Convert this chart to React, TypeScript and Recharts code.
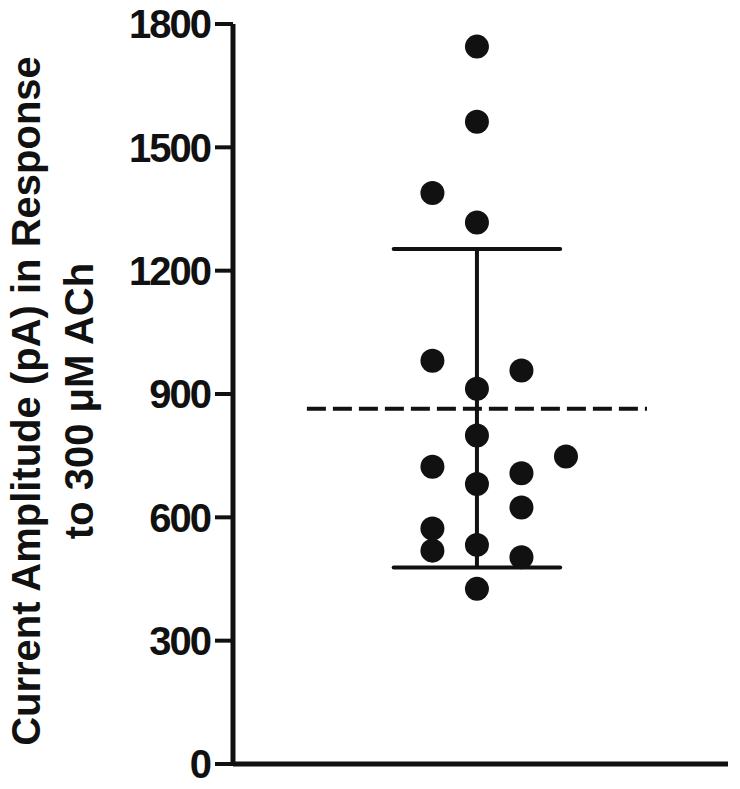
import React from "react";
import { ScatterChart, Scatter, XAxis, YAxis, ReferenceLine } from "recharts";

// Jitter column (offset units) and amplitude (pA) for each cell
const pointColumn = [0, 0, -1, 0, -1, 1, 0, 0, 2, -1, 1, 0, 1, -1, 0, -1, 1, 0];
const pointAmplitude = [1745, 1562, 1389, 1317, 981, 957, 913, 799, 748, 723, 707, 681, 624, 573, 533, 519, 503, 426];

const meanValue = 864;
const sdUpper = 1253;
const sdLower = 478;

const yTicks = [0, 300, 600, 900, 1200, 1500, 1800];
const labelLine1 = "Current Amplitude  (pA) in Response";
const labelLine2 = "to 300 \u03BCM ACh";

const data = pointColumn.map((c, i) => ({ x: c, y: pointAmplitude[i] }));

const INK = "#111";
const FONT = "'Liberation Sans', Arial, Helvetica, sans-serif";

const Dot = (props: any) => <circle cx={props.cx} cy={props.cy} r={12} fill={INK} />;

const YLabel = () => (
  <g>
    <text
      x={40}
      y={401}
      transform="rotate(-90, 40, 401)"
      textAnchor="middle"
      fontFamily={FONT}
      fontWeight="bold"
      fontSize={40}
      fill={INK}
    >
      {labelLine1}
    </text>
    <text
      x={93}
      y={401}
      transform="rotate(-90, 93, 401)"
      textAnchor="middle"
      fontFamily={FONT}
      fontWeight="bold"
      fontSize={40}
      fill={INK}
    >
      {labelLine2}
    </text>
  </g>
);

export default function App() {
  return (
    <div style={{ position: "absolute", left: 0, top: 0, background: "#fff" }}>
      <ScatterChart width={740} height={789} margin={{ top: 24, right: 12, bottom: 20, left: 0 }}>
        <XAxis
          type="number"
          dataKey="x"
          domain={[-5.48, 5.64]}
          tick={false}
          tickLine={false}
          height={5}
          axisLine={{ stroke: INK, strokeWidth: 5 }}
        />
        <YAxis
          type="number"
          dataKey="y"
          domain={[0, 1800]}
          ticks={yTicks}
          width={233}
          tickSize={18}
          tickMargin={5}
          axisLine={{ stroke: INK, strokeWidth: 5 }}
          tickLine={{ stroke: INK, strokeWidth: 4 }}
          tick={{ fill: INK, fontSize: 40, fontWeight: "bold", fontFamily: FONT, letterSpacing: -2 }}
          label={<YLabel />}
        />
        <ReferenceLine
          segment={[{ x: -3.82, y: meanValue }, { x: 3.82, y: meanValue }]}
          stroke={INK}
          strokeWidth={4}
          strokeDasharray="19 7"
        />
        <ReferenceLine
          segment={[{ x: 0, y: sdLower }, { x: 0, y: sdUpper }]}
          stroke={INK}
          strokeWidth={4}
        />
        <ReferenceLine
          segment={[{ x: -1.87, y: sdUpper }, { x: 1.87, y: sdUpper }]}
          stroke={INK}
          strokeWidth={4}
          strokeLinecap="round"
        />
        <ReferenceLine
          segment={[{ x: -1.87, y: sdLower }, { x: 1.87, y: sdLower }]}
          stroke={INK}
          strokeWidth={4}
          strokeLinecap="round"
        />
        <Scatter data={data} shape={<Dot />} isAnimationActive={false} />
      </ScatterChart>
    </div>
  );
}
